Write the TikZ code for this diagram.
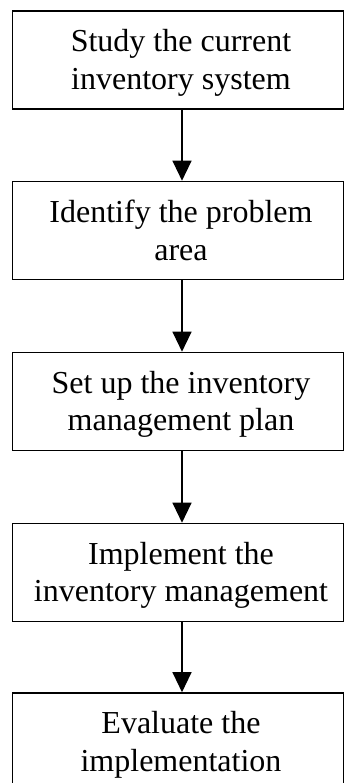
\documentclass[tikz,border=0pt]{standalone}
\usepackage{fontspec}
\setmainfont{Liberation Serif}
\usetikzlibrary{arrows.meta}
\begin{document}
\begin{tikzpicture}[x=1pt,y=1pt,
  box/.style={draw, line width=1.6pt, minimum width=331pt, minimum height=98pt, inner sep=0pt},
  txt/.style={align=center, font=\fontsize{32}{37.5}\selectfont, inner sep=0pt},
  conn/.style={line width=1.2pt, -{Triangle[length=20pt,width=19pt]}}]
\useasboundingbox (0,0) rectangle (345,-783);
\clip (0,0) rectangle (345,-783);
\fill[white] (0,0) rectangle (345,-783);
\node[box] (b1) at (178,-60) {};
\node[box] (b2) at (178,-230.5) {};
\node[box] (b3) at (178,-401.5) {};
\node[box] (b4) at (178,-572.5) {};
\node[box] (b5) at (178,-742) {};
\node[txt] (t1) at ([xshift=3pt,yshift=-3pt]b1.center) {Study the current\\inventory system};
\node[txt] (t2) at ([xshift=3pt]b2.center) {Identify the problem\\area};
\node[txt] (t3) at ([xshift=3pt,yshift=-3pt]b3.center) {Set up the inventory\\management plan};
\node[txt] (t4) at ([xshift=3pt,yshift=-3pt]b4.center) {Implement the\\inventory management};
\node[txt] (t5) at ([xshift=3pt,yshift=-3pt]b5.center) {Evaluate the\\implementation};
\draw[conn] ([xshift=4pt]b1.south) -- ([xshift=4pt]b2.north);
\draw[conn] ([xshift=4pt]b2.south) -- ([xshift=4pt]b3.north);
\draw[conn] ([xshift=4pt]b3.south) -- ([xshift=4pt]b4.north);
\draw[conn] ([xshift=4pt]b4.south) -- ([xshift=4pt]b5.north);
\end{tikzpicture}
\end{document}
